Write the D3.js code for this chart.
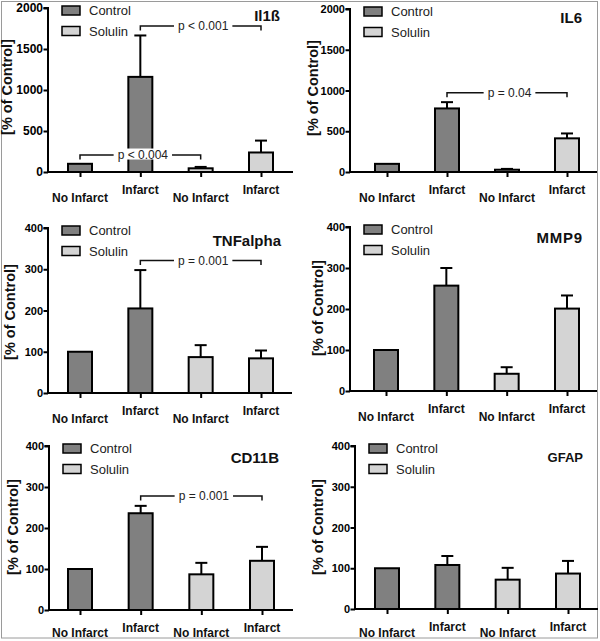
<!DOCTYPE html>
<html><head><meta charset="utf-8">
<script src="https://cdn.jsdelivr.net/npm/d3@7"></script>
<style>
html,body{margin:0;padding:0;background:#fff;}
svg{display:block;font-family:"Liberation Sans",Arial,Helvetica,sans-serif;}
</style></head>
<body>
<svg id="c" width="600" height="641"></svg>
<script>
// ---- data ----
const categories = ["No Infarct", "Infarct", "No Infarct", "Infarct"];
const groups = ["Control", "Control", "Solulin", "Solulin"];
const seriesNames = ["Control", "Solulin"];
const panelTitles = ["Il1ß", "IL6", "TNFalpha", "MMP9", "CD11B", "GFAP"];
const yMaxes = [2000, 2000, 400, 400, 400, 400];
const yTicksBig = [0, 500, 1000, 1500, 2000];
const yTicksSmall = [0, 100, 200, 300, 400];
const il1bMean = [100, 1160, 45, 238];
const il1bErr  = [100, 1665, 62, 383];
const il6Mean  = [100, 780, 28, 413];
const il6Err   = [100, 857, 38, 473];
const tnfMean  = [100, 205, 87, 84];
const tnfErr   = [100, 298, 116, 103];
const mmp9Mean = [100, 257, 42, 201];
const mmp9Err  = [100, 300, 58, 233];
const cd11Mean = [100, 236, 87, 120];
const cd11Err  = [100, 254, 115, 154];
const gfapMean = [100, 108, 72, 87];
const gfapErr  = [100, 130, 101, 118];
const means = [il1bMean, il6Mean, tnfMean, mmp9Mean, cd11Mean, gfapMean];
const errs  = [il1bErr, il6Err, tnfErr, mmp9Err, cd11Err, gfapErr];
// significance brackets: [panel, fromIndex, toIndex, level(value), label]
const brackets = [
  [0, 1, 3, 1780, "p < 0.001"],
  [0, 0, 2, 207, "p < 0.004"],
  [1, 1, 3, 973, "p = 0.04"],
  [2, 1, 3, 321, "p = 0.001"],
  [4, 1, 3, 278, "p = 0.001"]
];

// ---- layout (pixels) ----
const layout = [
  {ax:48,  top:8,   bot:172, x0:80,  x1:261, xEnd:293, ylx:7,   yly:87,  tx:280, ty:21,  tf:12, lo:30},
  {ax:350, top:9,   bot:172, x0:387, x1:567, xEnd:597, ylx:313, yly:88,  tx:582, ty:23,  tf:11, lo:30},
  {ax:48,  top:228, bot:393, x0:80,  x1:261, xEnd:292, ylx:10,  yly:312, tx:281, ty:246, tf:11, lo:29.5},
  {ax:350, top:227, bot:391, x0:386, x1:567, xEnd:597, ylx:318, yly:308, tx:583, ty:243, tf:11, lo:29.5},
  {ax:49,  top:446, bot:610, x0:80,  x1:262, xEnd:293, ylx:13,  yly:527, tx:279, ty:463, tf:11, lo:26.5},
  {ax:355, top:446, bot:609, x0:387, x1:568, xEnd:598, ylx:318, yly:527, tx:583, ty:462, tf:11, lo:27.5}
];
const fills = {Control:"#808080", Solulin:"#d4d4d4"};
const barW = 24, capW = 12;

const svg = d3.select("#c");
svg.append("rect").attr("x",0).attr("y",0).attr("width",600).attr("height",641).attr("fill","#fff");
svg.append("rect").attr("x",1.5).attr("y",1.5).attr("width",596).attr("height",636.5)
  .attr("fill","none").attr("stroke","#9a9a9a").attr("stroke-width",1);

panelTitles.forEach((title, p) => {
  const L = layout[p];
  const g = svg.append("g");
  const y = d3.scaleLinear().domain([0, yMaxes[p]]).range([L.bot, L.top]);
  const x = d3.scalePoint().domain(d3.range(categories.length)).range([L.x0, L.x1]);
  const ticks = yMaxes[p] === 2000 ? yTicksBig : yTicksSmall;

  // bars
  categories.forEach((c, i) => {
    const m = means[p][i], e = errs[p][i];
    if (e > m) {
      g.append("line").attr("x1", x(i)).attr("x2", x(i)).attr("y1", y(m)).attr("y2", y(e))
        .attr("stroke","#000").attr("stroke-width",2);
      g.append("line").attr("x1", x(i)-capW/2).attr("x2", x(i)+capW/2).attr("y1", y(e)).attr("y2", y(e))
        .attr("stroke","#000").attr("stroke-width",2);
    }
    g.append("rect").attr("x", x(i)-barW/2).attr("y", y(m)).attr("width", barW).attr("height", y(0)-y(m))
      .attr("fill", fills[groups[i]]).attr("stroke","#000").attr("stroke-width",2);
  });

  // y axis
  const ya = g.append("g").attr("transform", `translate(${L.ax},0)`)
    .call(d3.axisLeft(y).tickValues(ticks).tickSize(4.5).tickPadding(0.5).tickFormat(d3.format("d")));
  ya.select(".domain").attr("stroke-width",2).attr("d", `M-4.5,${L.top}H0V${L.bot}`);
  ya.selectAll(".tick line").attr("stroke-width",2);
  ya.selectAll(".tick text").attr("font-size",L.tf).attr("font-weight","bold").attr("fill","#000")
    .attr("font-family","'Liberation Sans',Arial,sans-serif");

  // x axis
  g.append("line").attr("x1", L.ax).attr("x2", L.xEnd).attr("y1", L.bot).attr("y2", L.bot)
    .attr("stroke","#000").attr("stroke-width",2);
  const xa = g.append("g").attr("transform", `translate(0,${L.bot})`)
    .call(d3.axisBottom(x).tickSize(5).tickFormat(""));
  xa.select(".domain").remove();
  xa.selectAll(".tick line").attr("stroke-width",2);
  categories.forEach((c, i) => {
    g.append("text").attr("x", x(i)).attr("y", L.bot + (i % 2 === 0 ? L.lo : 21.5))
      .attr("text-anchor","middle").attr("font-size",12).attr("font-weight","bold").attr("fill","#111")
      .text(c);
  });

  // y label
  g.append("text").attr("transform", `translate(${L.ylx},${L.yly}) rotate(-90)`)
    .attr("text-anchor","middle").attr("dominant-baseline","central")
    .attr("font-size",14.5).attr("font-weight","bold").attr("fill","#111").text("[% of Control]");

  // legend
  seriesNames.forEach((s, k) => {
    const by = L.top - 2 + k * 20.5;
    g.append("rect").attr("x", L.ax + 14).attr("y", by).attr("width", 18).attr("height", 9)
      .attr("fill", fills[s]).attr("stroke","#000").attr("stroke-width",1.5);
    g.append("text").attr("x", L.ax + 41).attr("y", by + 4.5).attr("dominant-baseline","central")
      .attr("font-size",13).attr("fill","#222").text(s);
  });

  // title
  g.append("text").attr("x", L.tx).attr("y", L.ty).attr("text-anchor","end")
    .attr("font-size", title === "GFAP" ? 13 : 15).attr("font-weight","bold").attr("fill","#111")
    .attr("letter-spacing", title === "MMP9" ? 0.8 : 0).text(title);

  // brackets
  brackets.filter(b => b[0] === p).forEach(b => {
    const xa1 = x(b[1]), xa2 = x(b[2]), yy = y(b[3]);
    g.append("path").attr("d", `M${xa1},${yy+4.5}V${yy}H${xa2}V${yy+4.5}`)
      .attr("fill","none").attr("stroke","#111").attr("stroke-width",1.5);
    const cx = (xa1+xa2)/2 + 2.5;
    const t = g.append("text").attr("x", cx).attr("y", yy).attr("dominant-baseline","central")
      .attr("text-anchor","middle").attr("font-size",12).attr("fill","#222").text(b[4]);
    const w = t.node().getComputedTextLength();
    g.insert("rect", () => t.node()).attr("x", cx - w/2 - 4).attr("y", yy - 6.5)
      .attr("width", w + 8).attr("height", 11).attr("fill","#fff");
  });
});
</script>
</body></html>
